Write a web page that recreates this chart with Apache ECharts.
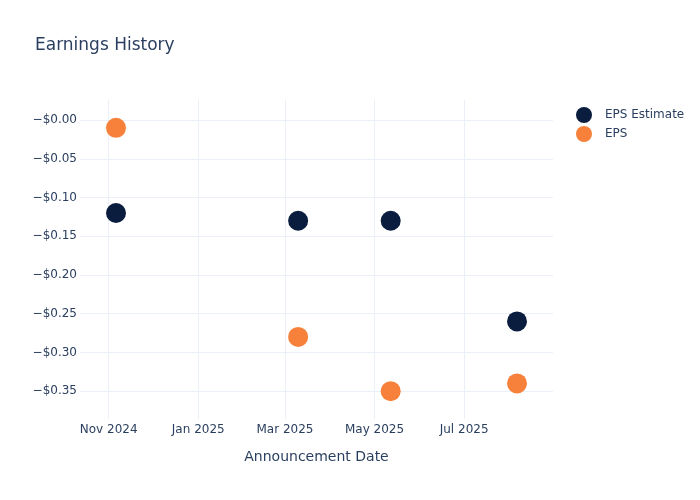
<!DOCTYPE html>
<html>
<head>
<meta charset="utf-8">
<script src="https://cdn.jsdelivr.net/npm/echarts@6/dist/echarts.min.js"></script>
<style>html,body{margin:0;padding:0;background:#fff}#c{width:700px;height:500px}</style>
</head>
<body>
<div id="c"></div>
<script>
var dates = ['2024-11-06', '2025-03-10', '2025-05-12', '2025-08-06'];
var epsEstimate = [-0.12, -0.13, -0.13, -0.26];
var eps = [-0.01, -0.28, -0.35, -0.34];
var xTicks = ['2024-11-01', '2025-01-01', '2025-03-01', '2025-05-01', '2025-07-01'];
var yTicks = [0, -0.05, -0.10, -0.15, -0.20, -0.25, -0.30, -0.35];
var xRange = ['2024-10-12 12:00', '2025-08-30 12:00'];
var yRange = [-0.386, 0.026];

function ts(s) { return echarts.time.parse(s).getTime(); }
var months = ['Jan','Feb','Mar','Apr','May','Jun','Jul','Aug','Sep','Oct','Nov','Dec'];
var font = 'DejaVu Sans';
var textColor = '#2a3f5f';
var gridColor = '#EBF0F8';

var chart = echarts.init(document.getElementById('c'), null, {renderer: 'canvas'});
chart.setOption({
  animation: false,
  backgroundColor: '#fff',
  title: {
    text: 'Earnings History',
    left: 30, top: 32,
    textStyle: {fontFamily: font, fontSize: 17, fontWeight: 'normal', color: textColor}
  },
  legend: {
    orient: 'vertical',
    left: 571, top: 102,
    itemWidth: 16, itemHeight: 16, itemGap: 3,
    icon: 'circle',
    textStyle: {fontFamily: font, fontSize: 12, color: textColor, padding: [0, 0, 0, 8]},
    data: ['EPS Estimate', 'EPS']
  },
  grid: {left: 80, right: 147, top: 100, bottom: 81, containLabel: false},
  xAxis: {
    type: 'value',
    min: ts(xRange[0]), max: ts(xRange[1]),
    name: 'Announcement Date',
    nameLocation: 'middle',
    nameGap: 31,
    nameTextStyle: {fontFamily: font, fontSize: 14, color: textColor},
    axisLine: {show: false},
    axisTick: {show: false, customValues: xTicks.map(ts)},
    axisLabel: {
      customValues: xTicks.map(ts),
      margin: 5,
      fontFamily: font, fontSize: 12, color: textColor,
      formatter: function (v) { var d = new Date(v); return months[d.getMonth()] + ' ' + d.getFullYear(); }
    },
    splitLine: {show: true, lineStyle: {color: gridColor, width: 1}}
  },
  yAxis: {
    type: 'value',
    min: yRange[0], max: yRange[1],
    axisLine: {show: false},
    axisTick: {show: false, customValues: yTicks},
    axisLabel: {
      customValues: yTicks,
      margin: 3,
      padding: [3, 0, 0, 0],
      fontFamily: font, fontSize: 12, color: textColor,
      formatter: function (v) { return '\u2212$' + Math.abs(v).toFixed(2); }
    },
    splitLine: {show: true, lineStyle: {color: gridColor, width: 1}}
  },
  series: [
    {
      name: 'EPS Estimate', type: 'scatter', symbolSize: 20,
      itemStyle: {color: '#0b1d3f', opacity: 1},
      data: dates.map(function (d, i) { return [ts(d), epsEstimate[i]]; })
    },
    {
      name: 'EPS', type: 'scatter', symbolSize: 20,
      itemStyle: {color: '#f7813a', opacity: 1},
      data: dates.map(function (d, i) { return [ts(d), eps[i]]; })
    }
  ]
});
</script>
</body>
</html>
